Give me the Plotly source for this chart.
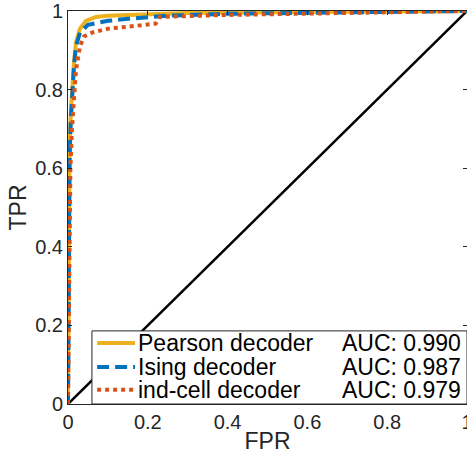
import plotly.graph_objects as go

# ---- data ----
pearson_fpr = [0, 0.002, 0.004, 0.007, 0.01, 0.015, 0.02, 0.03, 0.045, 0.07, 0.1, 0.2, 0.3, 0.5, 0.7, 1.0]
pearson_tpr = [0, 0.45, 0.65, 0.74, 0.80, 0.87, 0.92, 0.955, 0.975, 0.985, 0.988, 0.992, 0.995, 0.997, 0.998, 1.0]

ising_fpr = [0, 0.002, 0.004, 0.007, 0.01, 0.015, 0.02, 0.03, 0.05, 0.1, 0.15, 0.25, 0.4, 0.6, 1.0]
ising_tpr = [0, 0.45, 0.63, 0.72, 0.78, 0.86, 0.91, 0.945, 0.965, 0.975, 0.98, 0.988, 0.993, 0.996, 1.0]

ind_fpr = [0, 0.003, 0.006, 0.01, 0.015, 0.02, 0.03, 0.04, 0.06, 0.1, 0.15, 0.22, 0.23, 0.4, 0.7, 1.0]
ind_tpr = [0, 0.40, 0.60, 0.70, 0.78, 0.85, 0.91, 0.935, 0.945, 0.955, 0.96, 0.968, 0.985, 0.99, 0.995, 1.0]

diag = [0, 1]

names = ["Pearson decoder", "Ising decoder", "ind-cell decoder"]
aucs = ["AUC: 0.990", "AUC: 0.987", "AUC: 0.979"]
colors = ["#EDB120", "#0072BD", "#D95319"]
dashes = ["solid", "12px,6px", "4px,4px"]

tick_vals = [0, 0.2, 0.4, 0.6, 0.8, 1]
tick_text = ["0", "0.2", "0.4", "0.6", "0.8", "1"]

FONT = "Liberation Sans, Arial, Helvetica, sans-serif"
AX = "#262626"

fig = go.Figure()
fig.add_trace(go.Scatter(x=diag, y=diag, mode="lines",
                         line=dict(color="black", width=2.5), showlegend=False))
series = [(pearson_fpr, pearson_tpr), (ising_fpr, ising_tpr), (ind_fpr, ind_tpr)]
for (fx, ty), c, d, n in zip(series, colors, dashes, names):
    fig.add_trace(go.Scatter(x=fx, y=ty, mode="lines", name=n,
                             line=dict(color=c, width=4, dash=d), showlegend=False))

# legend box (drawn manually to match MATLAB layout)
fig.add_shape(type="rect", xref="x", yref="y", x0=0.06, x1=1.0, y0=0.0, y1=0.186,
              fillcolor="white", line=dict(color=AX, width=1), layer="above")
row_y = [0.155, 0.094, 0.036]
for ry, c, d, n, a in zip(row_y, colors, dashes, names, aucs):
    fig.add_shape(type="line", xref="x", yref="y", x0=0.073, x1=0.168, y0=ry, y1=ry,
                  line=dict(color=c, width=4, dash=d), layer="above")
    fig.add_annotation(xref="x", yref="y", x=0.174, y=ry, text=n, showarrow=False,
                       xanchor="left", yanchor="middle", borderpad=0,
                       font=dict(family=FONT, size=23, color="black"))
    fig.add_annotation(xref="x", yref="y", x=0.987, y=ry, text=a, showarrow=False,
                       xanchor="right", yanchor="middle", borderpad=0,
                       font=dict(family=FONT, size=23, color="black"))

axis_common = dict(
    showgrid=False, zeroline=False, showline=True, linecolor=AX, linewidth=1,
    mirror="ticks", ticks="inside", ticklen=4, tickwidth=1, tickcolor=AX,
    tickvals=tick_vals, ticktext=tick_text, range=[0, 1],
    ticklabeloverflow="allow", automargin=False,
    tickfont=dict(family=FONT, size=20, color=AX),
)
fig.update_xaxes(**axis_common,
                 title=dict(text="FPR", font=dict(family=FONT, size=23, color=AX), standoff=0))
fig.update_yaxes(**axis_common,
                 title=dict(text="TPR", font=dict(family=FONT, size=23, color=AX), standoff=2))

fig.update_layout(
    width=467, height=455,
    margin=dict(l=68, r=0, t=11, b=51, autoexpand=False),
    plot_bgcolor="white", paper_bgcolor="white",
    showlegend=False,
)

# remove the browser's default 8px body margin so the figure fills the window
fig.write_html("out.html", config={"displayModeBar": False},
               post_script="document.body.style.margin='0';document.body.style.overflow='hidden';")
